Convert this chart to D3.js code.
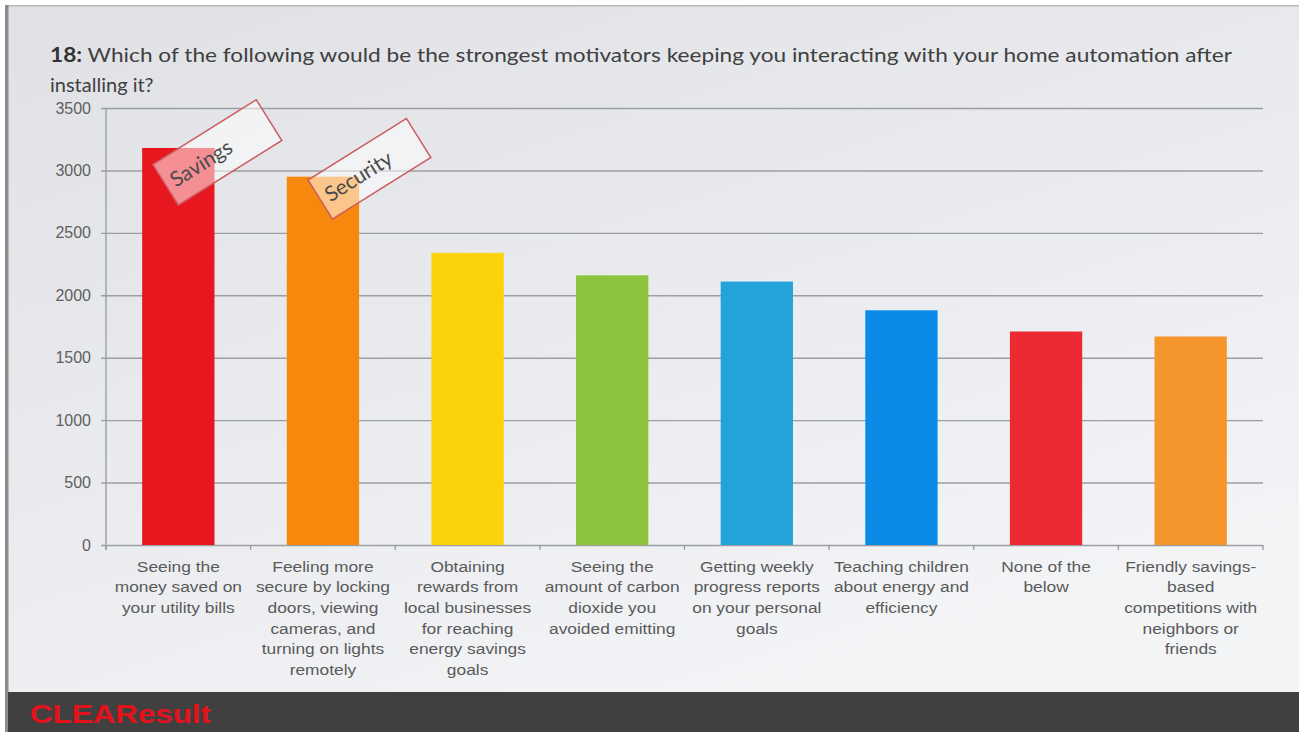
<!DOCTYPE html>
<html>
<head>
<meta charset="utf-8">
<script src="https://cdn.jsdelivr.net/npm/d3@7"></script>
<style>
  html, body { margin: 0; padding: 0; background: #ffffff; overflow: hidden; }
  svg { display: block; }
</style>
</head>
<body>
<svg id="chart" width="1299" height="734"></svg>
<script>
// ---- data ----
const categories = ["savings", "security", "rewards", "carbon", "reports", "children", "none", "competitions"];
const categoryLabels = [
  ["Seeing the", "money saved on", "your utility bills"],
  ["Feeling more", "secure by locking", "doors, viewing", "cameras, and", "turning on lights", "remotely"],
  ["Obtaining", "rewards from", "local businesses", "for reaching", "energy savings", "goals"],
  ["Seeing the", "amount of carbon", "dioxide you", "avoided emitting"],
  ["Getting weekly", "progress reports", "on your personal", "goals"],
  ["Teaching children", "about energy and", "efficiency"],
  ["None of the", "below"],
  ["Friendly savings-", "based", "competitions with", "neighbors or", "friends"]
];
const values = [3180, 2950, 2340, 2160, 2110, 1880, 1710, 1670];
const barColors = ["#e8161f", "#f5880d", "#fbd20b", "#8cc43e", "#24a3db", "#0b8be8", "#ec2a33", "#f5962c"];
const yTicks = [0, 500, 1000, 1500, 2000, 2500, 3000, 3500];
const calloutCategories = ["savings", "security"];
const calloutTexts = ["Savings", "Security"];
const titleNumber = "18:";
const titleLine1 = " Which of the following would be the strongest motivators keeping you interacting with your home automation after";
const titleLine2 = "installing it?";
const brandName = "CLEAResult";

// ---- layout ----
const W = 1299, H = 734;
const plot = { left: 106, right: 1263, top: 108, bottom: 545 };
const svg = d3.select("#chart");
const defs = svg.append("defs");

// slide background
const bg = defs.append("linearGradient").attr("id", "slideBg")
  .attr("x1", "0").attr("y1", "0").attr("x2", "0.6").attr("y2", "1");
bg.append("stop").attr("offset", "0").attr("stop-color", "#dfe1e5");
bg.append("stop").attr("offset", "0.55").attr("stop-color", "#e9ebee");
bg.append("stop").attr("offset", "1").attr("stop-color", "#f3f4f6");

svg.append("rect").attr("x", 0).attr("y", 0).attr("width", W).attr("height", H).attr("fill", "#ffffff");
svg.append("rect").attr("x", 5).attr("y", 5).attr("width", W - 5).attr("height", 688).attr("fill", "url(#slideBg)");
svg.append("rect").attr("x", 5).attr("y", 5).attr("width", W - 5).attr("height", 1.5).attr("fill", "#b5b8bd");
svg.append("rect").attr("x", 5).attr("y", 5).attr("width", 3.5).attr("height", 727).attr("fill", "#8a8b8d");

// footer band with brand name
svg.append("rect").attr("x", 8).attr("y", 692).attr("width", W - 8).attr("height", 40).attr("fill", "#404040");
svg.append("text").attr("x", 30).attr("y", 723)
  .attr("font-family", "'Liberation Sans', Arial, sans-serif")
  .attr("font-weight", "bold").attr("font-size", 25)
  .attr("fill", "#e5121c")
  .attr("textLength", 181).attr("lengthAdjust", "spacingAndGlyphs")
  .text(brandName);

// title
const title = svg.append("text").attr("x", 50).attr("y", 62)
  .attr("font-family", "Lato, 'Open Sans', sans-serif")
  .attr("font-size", 20).attr("fill", "#404040")
  .attr("textLength", 1182).attr("lengthAdjust", "spacingAndGlyphs");
title.append("tspan").attr("font-weight", "bold").attr("fill", "#333333").text(titleNumber);
title.append("tspan").text(titleLine1);
svg.append("text").attr("x", 50).attr("y", 92)
  .attr("font-family", "Lato, 'Open Sans', sans-serif")
  .attr("font-size", 20).attr("fill", "#404040")
  .text(titleLine2);

// scales
const x = d3.scaleBand().domain(categories).range([plot.left, plot.right])
  .paddingInner(0.5).paddingOuter(0.25);
const y = d3.scaleLinear().domain([0, 3500]).range([plot.bottom, plot.top]);
const step = x.step();
const bw = x.bandwidth();

// gridlines + y labels via axis
const yAxis = d3.axisLeft(y).tickValues(yTicks).tickFormat(d3.format("d"))
  .tickSize(-(plot.right - plot.left + 5)).tickPadding(11);
const gy = svg.append("g").attr("transform", `translate(${plot.left - 5},0)`).call(yAxis);
gy.select(".domain").remove();
gy.selectAll(".tick line").attr("stroke", "#9c9ea2").attr("stroke-width", 1.4);
gy.selectAll(".tick text")
  .attr("font-family", "'Liberation Sans', Arial, sans-serif")
  .attr("font-size", 16).attr("fill", "#5f5f5f")
  .attr("x", -10);

// y axis line
svg.append("line").attr("x1", plot.left).attr("x2", plot.left)
  .attr("y1", y(3500)).attr("y2", y(0) + 5)
  .attr("stroke", "#9c9ea2").attr("stroke-width", 1.4);

// category boundary ticks
const bounds = categories.map(c => x(c) - (step - bw) / 2).concat([plot.right]);
svg.append("g").selectAll("line").data(bounds).join("line")
  .attr("x1", d => d).attr("x2", d => d)
  .attr("y1", y(0)).attr("y2", y(0) + 5)
  .attr("stroke", "#9c9ea2").attr("stroke-width", 1.4);

// bars
svg.append("g").selectAll("rect").data(values).join("rect")
  .attr("x", (d, i) => x(categories[i]))
  .attr("width", bw)
  .attr("y", d => y(d))
  .attr("height", d => y(0) - y(d))
  .attr("fill", (d, i) => barColors[i]);

// category labels (slightly wide glyphs)
const lab = svg.append("g").selectAll("g").data(categoryLabels).join("g")
  .attr("transform", (d, i) => `translate(${x(categories[i]) + bw / 2},571.5) scale(1.12,1)`);
lab.append("text")
  .attr("text-anchor", "middle")
  .attr("font-family", "'Liberation Sans', Arial, sans-serif")
  .attr("font-size", 15.5).attr("fill", "#5a5a5a")
  .selectAll("tspan").data(d => d).join("tspan")
  .attr("x", 0).attr("y", (d, j) => j * 20.7)
  .text(d => d);

// tilted callout tags on the leading bars
const calloutOffset = { savings: [39, 4.5], security: [46.5, -8] };
const calloutSize = { savings: [122, 48], security: [116, 46] };
calloutCategories.forEach((c, k) => {
  const i = categories.indexOf(c);
  const cx = x(c) + bw / 2 + calloutOffset[c][0];
  const cy = y(values[i]) + calloutOffset[c][1];
  const [bwid, bht] = calloutSize[c];
  const g = svg.append("g").attr("transform", `translate(${cx},${cy}) rotate(-32)`);
  g.append("rect").attr("x", -bwid / 2).attr("y", -bht / 2)
    .attr("width", bwid).attr("height", bht)
    .attr("fill", "#ffffff").attr("fill-opacity", 0.52)
    .attr("stroke", "#cd5a60").attr("stroke-width", 1.5);
  g.append("text").attr("x", -bwid / 2 + 7).attr("y", 8)
    .attr("font-family", "Lato, 'Open Sans', sans-serif")
    .attr("font-size", 21).attr("fill", "#4a4a4a")
    .text(calloutTexts[k]);
});
</script>
</body>
</html>
